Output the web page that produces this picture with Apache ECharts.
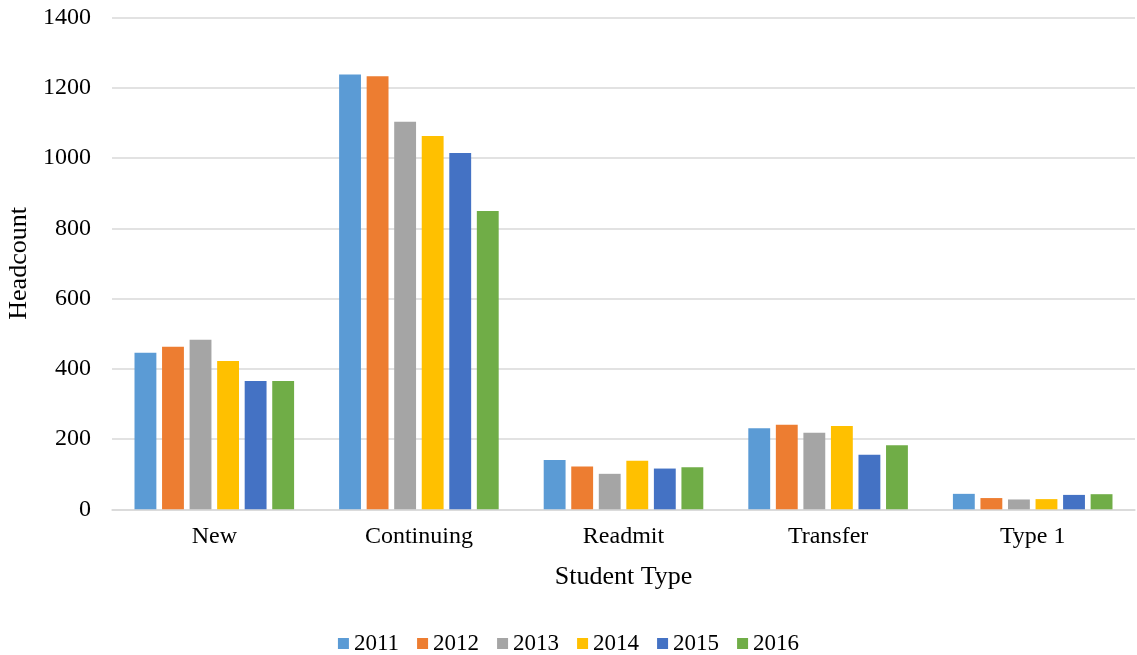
<!DOCTYPE html>
<html>
<head>
<meta charset="utf-8">
<script src="https://cdn.jsdelivr.net/npm/echarts@6/dist/echarts.min.js"></script>
<style>
  html, body { margin: 0; padding: 0; background: #ffffff; }
  #chart { width: 1137px; height: 655px; }
</style>
</head>
<body>
<div id="chart"></div>
<script>
// Headcount by student type, fall terms 2011-2016
const categories = ['New', 'Continuing', 'Readmit', 'Transfer', 'Type 1'];
const years = ['2011', '2012', '2013', '2014', '2015', '2016'];
const headcount2011 = [446, 1238, 140, 231, 44];
const headcount2012 = [463, 1233, 122, 241, 32];
const headcount2013 = [483, 1103, 101, 218, 28];
const headcount2014 = [422, 1063, 138, 237, 29];
const headcount2015 = [365, 1014, 116, 155, 41];
const headcount2016 = [365, 849, 120, 182, 43];
const yearColors = ['#5B9BD5', '#ED7D31', '#A5A5A5', '#FFC000', '#4472C4', '#70AD47'];

const seriesValues = [headcount2011, headcount2012, headcount2013, headcount2014, headcount2015, headcount2016];
const font = 'Liberation Serif, Times New Roman, serif';

const chart = echarts.init(document.getElementById('chart'));
chart.setOption({
  backgroundColor: '#ffffff',
  animation: false,
  textStyle: { fontFamily: font, color: '#000000' },
  grid: { left: 112, right: 2, top: 17.5, bottom: 145.7, containLabel: false, outerBoundsMode: 'none' },
  legend: {
    data: years,
    top: 627,
    left: 'center',
    itemWidth: 11,
    itemHeight: 11,
    itemGap: 18,
    icon: 'rect',
    textStyle: { fontFamily: font, fontSize: 23, color: '#000000', padding: [0, 0, 0, 0] }
  },
  xAxis: {
    type: 'category',
    data: categories,
    name: 'Student Type',
    nameLocation: 'middle',
    nameGap: 55,
    nameTextStyle: { fontFamily: font, fontSize: 26, color: '#000000' },
    axisLine: { lineStyle: { color: '#d9d9d9', width: 1.5 } },
    axisTick: { show: false },
    axisLabel: { fontFamily: font, fontSize: 24, color: '#000000', margin: 15 }
  },
  yAxis: {
    type: 'value',
    min: 0,
    max: 1400,
    interval: 200,
    name: 'Headcount',
    nameLocation: 'middle',
    nameGap: 77,
    nameTextStyle: { fontFamily: font, fontSize: 26, color: '#000000' },
    axisLine: { show: false },
    axisTick: { show: false },
    axisLabel: { fontFamily: font, fontSize: 24, color: '#000000', margin: 21, formatter: v => String(v) },
    splitLine: { lineStyle: { color: '#d9d9d9', width: 1.5 } }
  },
  series: years.map((y, i) => ({
    name: y,
    type: 'bar',
    data: seriesValues[i],
    barGap: '26%',
    barCategoryGap: '22%',
    itemStyle: { color: yearColors[i] }
  }))
});
</script>
</body>
</html>
